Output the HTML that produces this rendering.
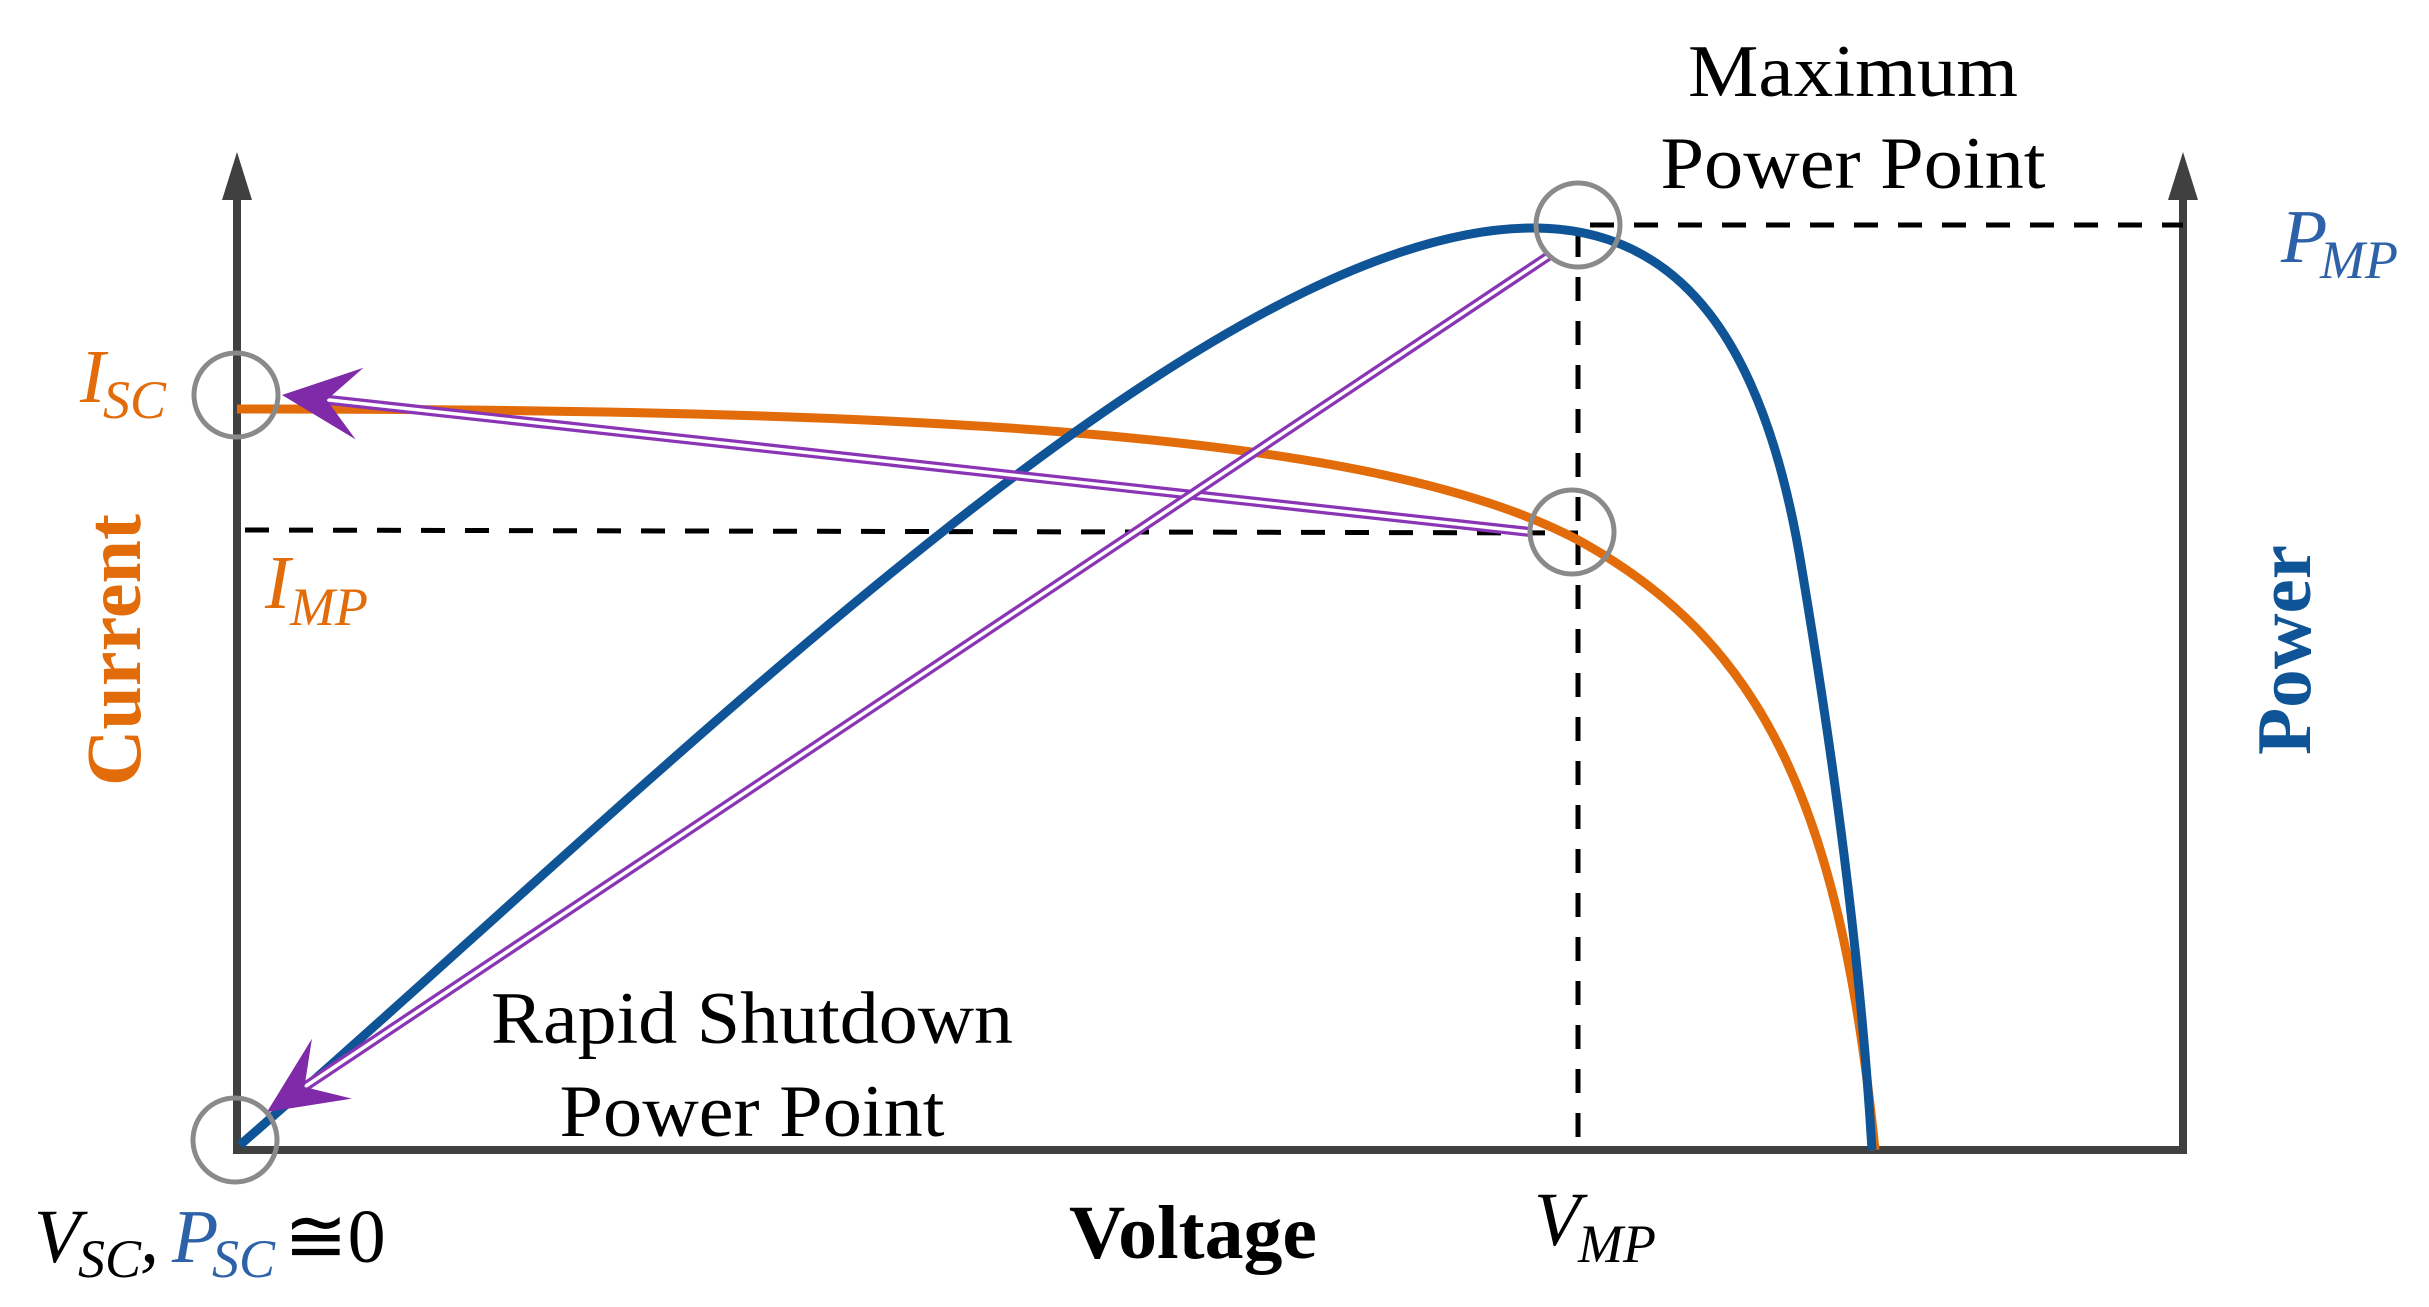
<!DOCTYPE html>
<html><head><meta charset="utf-8"><style>
html,body{margin:0;padding:0;background:#fff;}
svg{display:block;}
text{font-family:"Liberation Serif",serif;}
</style></head><body>
<svg width="2429" height="1307" viewBox="0 0 2429 1307" xmlns="http://www.w3.org/2000/svg">
<g stroke="#404040" stroke-width="8" fill="none">
<line x1="237" y1="190" x2="237" y2="1152"/>
<line x1="233" y1="1150" x2="2185" y2="1150"/>
<line x1="2183" y1="190" x2="2183" y2="1154"/>
</g>
<polygon points="237,152 222,200 252,200" fill="#404040"/>
<polygon points="2183,152 2168,200 2198,200" fill="#404040"/>
<g stroke="#000" stroke-width="5" stroke-dasharray="24,20" fill="none">
<line x1="245" y1="530" x2="1578" y2="533"/>
<line x1="1578" y1="233" x2="1578" y2="1150"/>
<line x1="1590" y1="225" x2="2183" y2="225"/>
</g>
<path d="M237,409 C950,409 1380,435 1578,540 C1760,640 1840,800 1875,1150" stroke="#e36c0a" stroke-width="9" fill="none"/>
<path d="M240,1145 C650,790 1200,228 1533,228 C1680,228 1765,340 1802,570 C1832,750 1860,950 1872,1150" stroke="#0f5496" stroke-width="9" fill="none"/>
<g fill="none" stroke-linecap="butt">
<line x1="1530" y1="532" x2="320" y2="399" stroke="#8a35b5" stroke-width="10"/>
<line x1="1530" y1="532" x2="320" y2="399" stroke="#fff" stroke-width="3.5"/>
<line x1="1550" y1="255" x2="300" y2="1090" stroke="#8a35b5" stroke-width="10"/>
<line x1="1550" y1="255" x2="300" y2="1090" stroke="#fff" stroke-width="3.5"/>
</g>
<path d="M0,0 L-78,-36 L-45,0 L-78,36 Z" fill="#7f2aa8" transform="translate(282,395) rotate(186.3)"/>
<path d="M0,0 L-78,-36 L-45,0 L-78,36 Z" fill="#7f2aa8" transform="translate(267,1112) rotate(146.3)"/>
<g stroke="#8a8a8a" stroke-width="5" fill="none">
<circle cx="236" cy="395" r="42"/>
<circle cx="1578" cy="225" r="42"/>
<circle cx="1572" cy="532" r="42"/>
<circle cx="235" cy="1140" r="42"/>
</g>
<text x="1853" y="96" font-size="74" text-anchor="middle" textLength="330" lengthAdjust="spacingAndGlyphs">Maximum</text>
<text x="1853" y="188" font-size="74" text-anchor="middle" textLength="385" lengthAdjust="spacingAndGlyphs">Power Point</text>
<text x="752" y="1043" font-size="74" text-anchor="middle" textLength="522" lengthAdjust="spacingAndGlyphs">Rapid Shutdown</text>
<text x="752" y="1136" font-size="74" text-anchor="middle" textLength="385" lengthAdjust="spacingAndGlyphs">Power Point</text>
<text x="1193" y="1258" font-size="76" font-weight="bold" text-anchor="middle" textLength="248" lengthAdjust="spacingAndGlyphs">Voltage</text>
<text transform="translate(140,650) rotate(-90)" font-size="78" font-weight="bold" fill="#e36c0a" text-anchor="middle" textLength="272" lengthAdjust="spacingAndGlyphs">Current</text>
<text transform="translate(2310,650) rotate(-90)" font-size="77" font-weight="bold" fill="#0f5496" text-anchor="middle" textLength="210" lengthAdjust="spacingAndGlyphs">Power</text>
<g font-style="italic">
<text x="80" y="402" font-size="76" fill="#e36c0a">I</text>
<text x="103" y="418" font-size="54" fill="#e36c0a">SC</text>
<text x="265" y="608" font-size="76" fill="#e36c0a">I</text>
<text x="290" y="625" font-size="54" fill="#e36c0a">MP</text>
<text x="1534" y="1245" font-size="76" fill="#000">V</text>
<text x="1578" y="1262" font-size="54" fill="#000">MP</text>
<text x="2281" y="262" font-size="76" fill="#2e62a8">P</text>
<text x="2320" y="278" font-size="54" fill="#2e62a8">MP</text>
<text x="34" y="1262" font-size="76" fill="#000">V</text>
<text x="78" y="1277" font-size="54" fill="#000">SC</text>
<text x="140" y="1262" font-size="76" fill="#000">,</text>
<text x="172" y="1262" font-size="76" fill="#2e62a8">P</text>
<text x="212" y="1277" font-size="54" fill="#2e62a8">SC</text>
</g>
<text x="284" y="1262" font-size="76" fill="#000">≅0</text>
</svg>
</body></html>
